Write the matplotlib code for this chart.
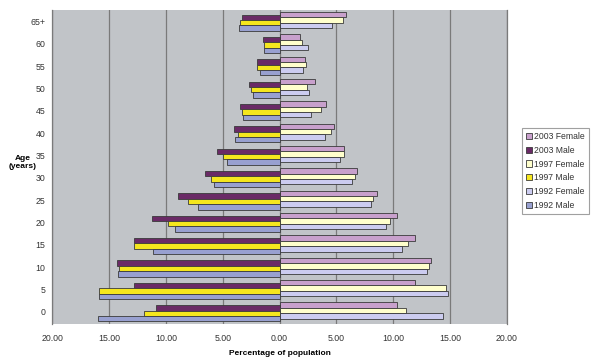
import numpy as np
import matplotlib
matplotlib.use("Agg")
import matplotlib.pyplot as plt
from matplotlib.ticker import FuncFormatter

plt.rcParams['font.family'] = ['Liberation Sans', 'DejaVu Sans']

ages = ['0', '5', '10', '15', '20', '25', '30', '35', '40', '45', '50', '55', '60', '65+']

# percentages (bottom age group first)
female_2003 = [10.3, 11.9, 13.3, 11.9, 10.3, 8.6, 6.8, 5.7, 4.8, 4.1, 3.1, 2.2, 1.8, 5.8]
male_2003 = [10.9, 12.8, 14.3, 12.8, 11.2, 8.9, 6.6, 5.5, 4.0, 3.5, 2.7, 2.0, 1.5, 3.3]
female_1997 = [11.1, 14.6, 13.1, 11.3, 9.7, 8.2, 6.6, 5.7, 4.5, 3.6, 2.4, 2.3, 2.0, 5.6]
male_1997 = [11.9, 15.9, 14.1, 12.8, 9.8, 8.1, 6.0, 5.0, 3.7, 3.3, 2.5, 2.0, 1.4, 3.5]
female_1992 = [14.4, 14.8, 13.0, 10.8, 9.4, 8.0, 6.4, 5.3, 4.0, 2.8, 2.6, 2.1, 2.5, 4.6]
male_1992 = [16.0, 15.9, 14.2, 11.1, 9.2, 7.2, 5.8, 4.6, 3.9, 3.2, 2.3, 1.7, 1.4, 3.6]

series = [
    ('2003 Female', female_2003, 1, '#c8a0cc'),
    ('2003 Male', male_2003, -1, '#6a2a66'),
    ('1997 Female', female_1997, 1, '#ffffcc'),
    ('1997 Male', male_1997, -1, '#f5e61e'),
    ('1992 Female', female_1992, 1, '#ccccf0'),
    ('1992 Male', male_1992, -1, '#98a0d0'),
]

fig = plt.figure(figsize=(6, 3.63), dpi=100)
ax = fig.add_axes([0.087, 0.107, 0.758, 0.865])
ax.set_facecolor('#c1c4c8')

y = np.arange(len(ages))
step = 0.12
for k, (name, vals, sign, color) in enumerate(series):
    offset = (2.5 - k) * step
    ax.barh(y + offset, sign * np.array(vals), height=0.24, color=color,
            edgecolor='#3a3a3a', linewidth=0.6, label=name, zorder=3)

ax.set_xlim(-20, 20)
ax.set_ylim(-0.55, 13.5)
ax.set_xticks(np.arange(-20, 21, 5))
ax.xaxis.set_major_formatter(FuncFormatter(lambda v, p: f"{abs(v):.2f}"))
ax.set_yticks(y)
ax.set_yticklabels(ages)
ax.tick_params(length=0, labelsize=6.3, labelcolor='#333333')
ax.tick_params(axis='x', pad=7)
ax.tick_params(axis='y', pad=5)
ax.grid(axis='x', color='#7a7a7a', linewidth=0.9, zorder=0)
for s in ['top', 'bottom']:
    ax.spines[s].set_visible(False)
for s in ['left', 'right']:
    ax.spines[s].set_color('#7a7a7a')
    ax.spines[s].set_linewidth(0.9)

ax.set_xlabel('Percentage of population', fontsize=6, fontweight='bold', labelpad=5)
fig.text(23 / 600, 1 - 162 / 363, 'Age\n(years)', fontsize=6, fontweight='bold',
         ha='center', va='center', multialignment='center')

leg = fig.legend(loc='upper left', bbox_to_anchor=(0.862, 0.66), fontsize=6.2,
                 frameon=True, fancybox=False, handlelength=0.7, handleheight=0.7,
                 handletextpad=0.3, labelspacing=0.55, borderpad=0.5)
leg.get_frame().set_edgecolor('#888888')
leg.get_frame().set_linewidth(0.8)
for t in leg.get_texts():
    t.set_color('#333333')

fig.savefig('out.png', dpi=100)
